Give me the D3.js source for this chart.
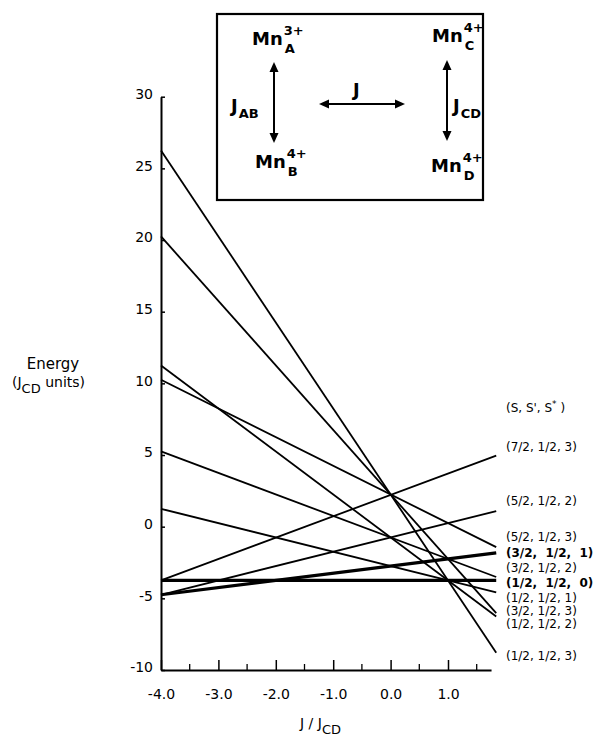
<!DOCTYPE html>
<html><head><meta charset="utf-8">
<script src="https://cdn.jsdelivr.net/npm/d3@7"></script>
<style>body{margin:0;background:#fff} text{font-family:"DejaVu Sans",Arial,Helvetica,sans-serif;fill:#000}</style>
</head><body><svg id="c" width="595" height="739"></svg>
<script>
// ---- data ----
const states = ["(7/2, 1/2, 3)", "(5/2, 1/2, 2)", "(5/2, 1/2, 3)", "(3/2,  1/2,  1)", "(3/2, 1/2, 2)", "(1/2,  1/2,  0)", "(1/2, 1/2, 1)", "(3/2, 1/2, 3)", "(1/2, 1/2, 2)", "(1/2, 1/2, 3)"];
const boldState = [false, false, false, true, false, true, false, false, false, false];
const xStart = -4.0, xEnd = 1.84;
const energyAtStart = [-3.75, -4.75, 10.25, -4.75, 5.25, -3.75, 1.25, 20.25, 11.25, 26.25];
const energyAtEnd = [4.96, 1.09, -1.43, -1.83, -3.51, -3.75, -4.59, -6.03, -6.27, -8.79];
const labelEnergy = [5.55, 1.84, -0.74, -1.84, -2.89, -3.93, -4.98, -5.86, -6.76, -9.04];
const headerEnergy = 8.28;
const xTicks = [-4, -3, -2, -1, 0, 1];
const xMinorTicks = [-3.5, -2.5, -1.5, -0.5, 0.5, 1.5];
const yTicks = [-10, -5, 0, 5, 10, 15, 20, 25, 30];
const xAxisMax = 1.75;

// ---- scales ----
const svg = d3.select("#c");
const x = d3.scaleLinear().domain([-4, xAxisMax]).range([161, 161 + (xAxisMax + 4) * 57.4]);
const y = d3.scaleLinear().domain([-10, 30]).range([670, 96.7]);

// ---- axes ----
const xAxis = d3.axisBottom(x).tickValues(xTicks).tickSize(-10).tickSizeOuter(0).tickPadding(19)
  .tickFormat(d3.format(".1f"));
const gx = svg.append("g").attr("transform", `translate(0,${y(-10)})`).call(xAxis);
gx.select(".domain").attr("stroke-width", 2);
gx.selectAll(".tick line").attr("stroke-width", 1.5);
gx.selectAll("text").style("font-size", "14px").style("font-family", "DejaVu Sans")
  .text(d => d3.format(".1f")(d).replace("−", "-"));
gx.selectAll(".minor").data(xMinorTicks).enter().append("line")
  .attr("x1", d => x(d)).attr("x2", d => x(d)).attr("y1", 0).attr("y2", -6)
  .attr("stroke", "#000").attr("stroke-width", 1.3);

const yAxis = d3.axisLeft(y).tickValues(yTicks).tickSize(-4).tickSizeOuter(0).tickPadding(8);
const gy = svg.append("g").attr("transform", `translate(${x(-4)},0)`).call(yAxis);
gy.select(".domain").attr("stroke-width", 2);
gy.selectAll(".tick line").attr("stroke-width", 1.5);
gy.selectAll("text").style("font-size", "14px").style("font-family", "DejaVu Sans")
  .attr("dy", "0.12em").text(d => String(d));

// ---- lines ----
const rows = states.map((s, i) => ({s, bold: boldState[i], e0: energyAtStart[i], e1: energyAtEnd[i], le: labelEnergy[i]}));
svg.append("g").selectAll("line.lv").data(rows).enter().append("line")
  .attr("x1", x(xStart)).attr("x2", x(xEnd))
  .attr("y1", d => y(d.e0)).attr("y2", d => y(d.e1))
  .attr("stroke", "#000").attr("stroke-width", d => d.bold ? 3.2 : 1.8).attr("stroke-linecap", "butt");

// ---- state labels ----
const lx = 506;
svg.append("g").selectAll("text").data(rows).enter().append("text")
  .attr("x", lx).attr("y", d => y(d.le)).attr("dy", "0.35em")
  .style("font-size", "12px").style("font-weight", d => d.bold ? "bold" : "normal")
  .style("white-space", "pre").text(d => d.s);
const hdr = svg.append("text").attr("x", lx).attr("y", y(headerEnergy)).attr("dy", "0.35em")
  .style("font-size", "12px").style("white-space", "pre");
hdr.append("tspan").text("(S, S', S");
hdr.append("tspan").attr("dy", "-5").style("font-size", "9px").text("*");
hdr.append("tspan").attr("dy", "5").text(" )");

// ---- axis titles ----
svg.append("text").attr("x", 53).attr("y", 369).attr("text-anchor", "middle").style("font-size", "15px").text("Energy");
const ut = svg.append("text").attr("x", 12).attr("y", 387).style("font-size", "14px");
ut.append("tspan").text("(J");
ut.append("tspan").attr("dy", 6).style("font-size", "13px").text("CD");
ut.append("tspan").attr("dy", -6).text(" units)");

const xt = svg.append("text").attr("x", 300).attr("y", 728).style("font-size", "14px");
xt.append("tspan").text("J / J");
xt.append("tspan").attr("dy", 6).style("font-size", "13px").text("CD");

// ---- inset ----
const ins = svg.append("g");
ins.append("rect").attr("x", 217).attr("y", 14).attr("width", 266).attr("height", 186)
  .attr("fill", "#fff").attr("stroke", "#000").attr("stroke-width", 2.2);
function mn(px, py, sup, sub) {
  const t = ins.append("text").attr("x", px).attr("y", py).style("font-size", "18px").style("font-weight", "bold").text("Mn");
  const w = t.node().getComputedTextLength();
  ins.append("text").attr("x", px + w + 1).attr("y", py - 10).style("font-size", "13px").style("font-weight", "bold").text(sup);
  ins.append("text").attr("x", px + w + 2).attr("y", py + 8).style("font-size", "13px").style("font-weight", "bold").text(sub);
}
mn(252, 45, "3+", "A");
mn(255, 168, "4+", "B");
mn(432, 42, "4+", "C");
mn(431, 172, "4+", "D");
function jlab(px, py, sub) {
  const t = ins.append("text").attr("x", px).attr("y", py).style("font-size", "18px").style("font-weight", "bold").text("J");
  const w = t.node().getComputedTextLength();
  if (sub) ins.append("text").attr("x", px + w + 1).attr("y", py + 6).style("font-size", "13px").style("font-weight", "bold").text(sub);
}
jlab(231, 112, "AB");
jlab(453, 112, "CD");
jlab(353, 96, "");
function arrow(x1, y1, x2, y2) {
  const L = 10, H = 4.5;
  const dx = x2 - x1, dy = y2 - y1, len = Math.hypot(dx, dy), ux = dx / len, uy = dy / len;
  ins.append("line").attr("x1", x1 + ux * L * 0.8).attr("y1", y1 + uy * L * 0.8)
    .attr("x2", x2 - ux * L * 0.8).attr("y2", y2 - uy * L * 0.8).attr("stroke", "#000").attr("stroke-width", 2);
  [[x1, y1, ux, uy], [x2, y2, -ux, -uy]].forEach(([tx, ty, vx, vy]) => {
    const bx = tx + vx * L, by = ty + vy * L;
    ins.append("polygon").attr("points", `${tx},${ty} ${bx - vy * H},${by + vx * H} ${bx + vy * H},${by - vx * H}`).attr("fill", "#000");
  });
}
arrow(274, 62, 274, 143);
arrow(447, 60, 447, 141);
arrow(319, 104, 405, 104);
</script></body></html>
